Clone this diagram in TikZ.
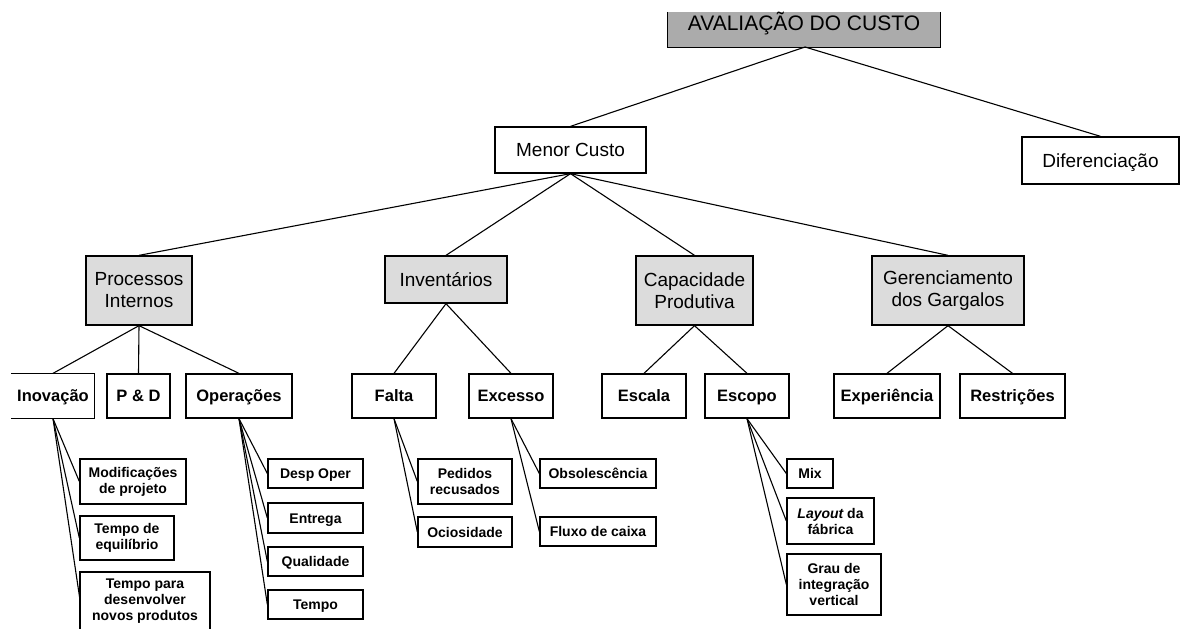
\documentclass[tikz,border=0pt]{standalone}
\usepackage{fontspec}
\setmainfont{Liberation Sans}
\definecolor{topgray}{HTML}{ABABAB}
\definecolor{lgray}{HTML}{DCDCDC}
\begin{document}
\begin{tikzpicture}[x=1pt,y=-1pt,
  sz/.style 2 args={minimum width=#1pt,minimum height=#2pt},
  box/.style={draw=black,line width=1.3pt,inner sep=0pt,align=center},
  lvlA/.style={box,font=\fontsize{19}{22}\selectfont},
  oneA/.style={text height=13.6pt,text depth=0pt},
  grayb/.style={lvlA,fill=lgray},
  lvlC/.style={box,font=\fontsize{16.5}{19}\selectfont\bfseries,text height=11.9pt,text depth=0pt},
  lvlD/.style={box,font=\fontsize{14}{16}\selectfont\bfseries},
  oneD/.style={text height=10pt,text depth=0pt},
  conn/.style={line width=1.1pt},
  edge3/.style={line width=1.3pt}]
\useasboundingbox (0,0) rectangle (1181,629);

% top
\node[fill=topgray,draw=none,inner sep=0pt,minimum width=272pt,text height=18pt,text depth=17pt,
      font=\fontsize{21}{24}\selectfont] (top) at (804,29.5) {AVALIAÇÃO DO CUSTO};
\draw[edge3] (top.north west) -- (top.south west) -- (top.south east) -- (top.north east);

\node[lvlA,oneA,sz={151}{46}] (menor) at (570.5,150) {Menor Custo};
\node[lvlA,oneA,sz={157}{47}] (dif) at (1100.5,160.5) {Diferenciação};

\node[grayb,sz={106}{69}] (proc) at (139,290.5) {Processos\\Internos};
\node[grayb,oneA,sz={122}{47}] (inv) at (446,279.5) {Inventários};
\node[grayb,sz={117}{69}] (cap) at (694.5,290.5) {Capacidade\\Produtiva};
\node[grayb,sz={152}{69}] (ger) at (948,290.5) {Gerenciamento\\dos Gargalos};

\node[lvlC,draw=none,sz={82}{44}] (ino) at (53,396) {Inovação};
\draw[edge3] (ino.north west) -- (ino.north east) -- (ino.south east) -- (ino.south west);
\node[lvlC,sz={63}{44}] (pd) at (138.5,396) {P \& D};
\node[lvlC,sz={106}{44}] (ope) at (239,396) {Operações};
\node[lvlC,sz={84}{44}] (fal) at (394,396) {Falta};
\node[lvlC,sz={84}{44}] (exc) at (511,396) {Excesso};
\node[lvlC,sz={84}{44}] (esc) at (644,396) {Escala};
\node[lvlC,sz={84}{44}] (escp) at (747,396) {Escopo};
\node[lvlC,sz={106}{44}] (exp) at (887,396) {Experiência};
\node[lvlC,sz={105}{44}] (res) at (1012.5,396) {Restrições};

\node[lvlD,sz={106}{45}] (mod) at (133,481.5) {Modificações\\de projeto};
\node[lvlD,sz={94}{44}] (teq) at (127,538) {Tempo de\\equilíbrio};
\node[lvlD,sz={130}{59}] (tpd) at (145,601.5) {Tempo para\\desenvolver\\novos produtos};
\node[lvlD,oneD,sz={95}{29}] (dop) at (315.5,473.5) {Desp Oper};
\node[lvlD,oneD,sz={95}{30}] (ent) at (315.5,518) {Entrega};
\node[lvlD,oneD,sz={95}{29}] (qua) at (315.5,561.5) {Qualidade};
\node[lvlD,oneD,sz={95}{29}] (tem) at (315.5,604.5) {Tempo};
\node[lvlD,sz={94}{45}] (ped) at (465,481.5) {Pedidos\\recusados};
\node[lvlD,oneD,sz={94}{30}] (oci) at (465,532) {Ociosidade};
\node[lvlD,oneD,sz={116}{29}] (obs) at (598,473.5) {Obsolescência};
\node[lvlD,oneD,sz={116}{29}] (flu) at (598,531.5) {Fluxo de caixa};
\node[lvlD,oneD,sz={46}{29}] (mix) at (810,473.5) {Mix};
\node[lvlD,sz={87}{46}] (lay) at (830.5,521) {{\itshape Layout} da\\fábrica};
\node[lvlD,sz={94}{61}] (gra) at (834,584.5) {Grau de\\integração\\vertical};

% connectors
\draw[conn] (805,47) -- (menor.north);
\draw[conn] (805,47) -- (dif.north);
\foreach \c in {proc,inv,cap,ger} \draw[conn] (menor.south) -- (\c.north);
\foreach \c in {ino,pd,ope} \draw[conn] (proc.south) -- (\c.north);
\foreach \c in {fal,exc} \draw[conn] (inv.south) -- (\c.north);
\foreach \c in {esc,escp} \draw[conn] (cap.south) -- (\c.north);
\foreach \c in {exp,res} \draw[conn] (ger.south) -- (\c.north);
\foreach \c in {mod,teq} \draw[conn] (ino.south) -- (\c.west);
\draw[conn] (ino.south) -- (80,600);
\foreach \c in {dop,ent,qua,tem} \draw[conn] (ope.south) -- (\c.west);
\foreach \c in {ped,oci} \draw[conn] (fal.south) -- (\c.west);
\foreach \c in {obs,flu} \draw[conn] (exc.south) -- (\c.west);
\foreach \c in {mix,lay,gra} \draw[conn] (escp.south) -- (\c.west);
\end{tikzpicture}
\end{document}
